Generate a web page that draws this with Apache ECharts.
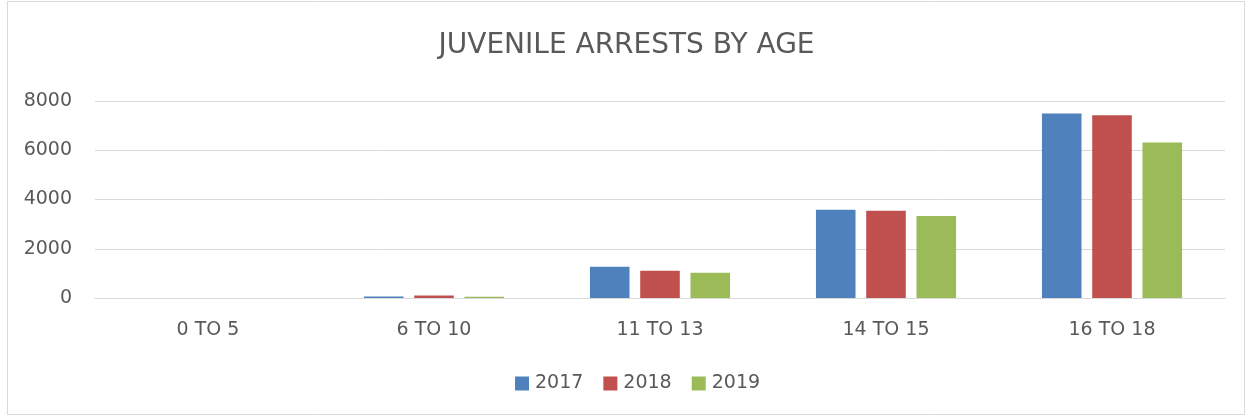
<!DOCTYPE html>
<html>
<head>
<meta charset="utf-8">
<script src="https://cdn.jsdelivr.net/npm/echarts@6/dist/echarts.min.js"></script>
<style>
html,body{margin:0;padding:0;background:#fff;}
#c{width:1253px;height:418px;}
</style>
</head>
<body>
<div id="c"></div>
<script>
const categories = ['0 TO 5', '6 TO 10', '11 TO 13', '14 TO 15', '16 TO 18'];
const seriesNames = ['2017', '2018', '2019'];
const values2017 = [3, 60, 1270, 3580, 7490];
const values2018 = [4, 105, 1110, 3540, 7425];
const values2019 = [2, 50, 1025, 3330, 6310];
const yTicks = [0, 2000, 4000, 6000, 8000];

const colors = ['#4F81BD', '#C0504D', '#9BBB59'];
const textColor = '#595959';
const fontFam = '"DejaVu Sans", sans-serif';

const chart = echarts.init(document.getElementById('c'), null, {renderer: 'canvas'});
const dataSets = [values2017, values2018, values2019];

chart.setOption({
  animation: false,
  backgroundColor: '#fff',
  color: colors,
  title: {
    text: 'JUVENILE ARRESTS BY AGE',
    left: 'center',
    top: 27,
    textStyle: {color: textColor, fontSize: 28, fontWeight: 'normal', fontFamily: fontFam}
  },
  legend: {
    top: 374,
    left: 515,
    padding: 0,
    itemWidth: 14,
    itemHeight: 14,
    itemGap: 20,
    icon: 'rect',
    textStyle: {color: textColor, fontSize: 19, fontFamily: fontFam, padding: [0, 0, 0, 1]},
    data: seriesNames
  },
  grid: {left: 95, right: 28, top: 101, bottom: 120, containLabel: false},
  xAxis: {
    type: 'category',
    data: categories,
    axisLine: {show: true, lineStyle: {color: '#d9d9d9', width: 1}},
    axisTick: {show: false},
    axisLabel: {color: textColor, fontSize: 19, fontFamily: fontFam, margin: 23}
  },
  yAxis: {
    type: 'value',
    min: yTicks[0],
    max: yTicks[yTicks.length - 1],
    interval: yTicks[1] - yTicks[0],
    axisLine: {show: false},
    axisTick: {show: false},
    axisLabel: {color: textColor, fontSize: 19, fontFamily: fontFam, margin: 23, formatter: v => String(v)},
    splitLine: {lineStyle: {color: '#d9d9d9', width: 1}}
  },
  series: seriesNames.map((n, i) => ({
    name: n,
    type: 'bar',
    data: dataSets[i],
    barCategoryGap: '38%',
    barGap: '27%',
    itemStyle: {color: colors[i]}
  })),
  graphic: [{
    type: 'rect',
    shape: {x: 7.5, y: 1.5, width: 1237, height: 413},
    style: {fill: 'none', stroke: '#d9d9d9', lineWidth: 1},
    silent: true,
    z: -10
  }]
});
</script>
</body>
</html>
